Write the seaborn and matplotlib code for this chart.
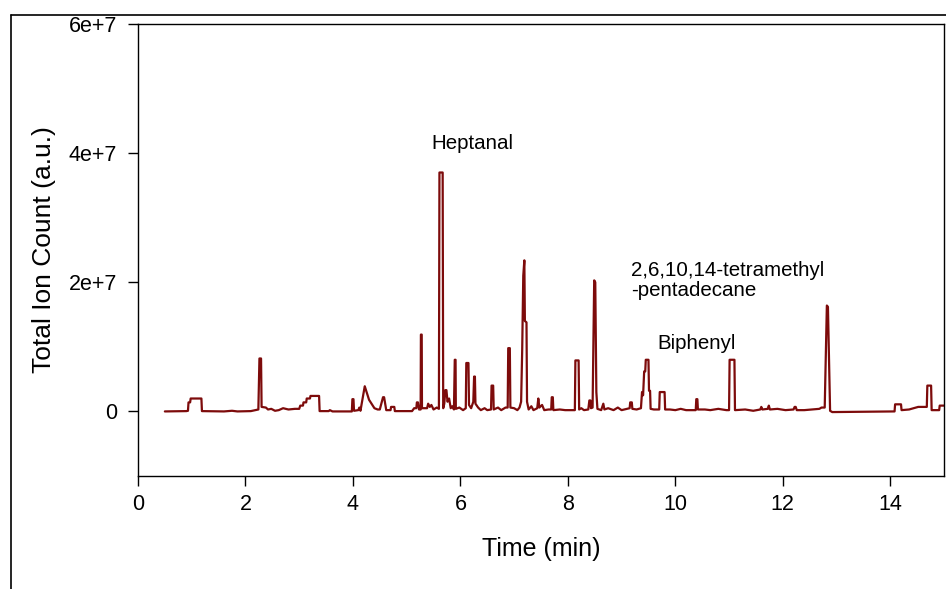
import matplotlib
matplotlib.use("Agg")
import matplotlib.pyplot as plt
import seaborn as sns
import pandas as pd
from matplotlib.lines import Line2D

# ---- data ----
time_min = [
    0.50, 0.90, 0.93, 0.94, 0.97, 0.98, 1.18, 1.19, 1.60, 1.75, 1.85, 2.10,
    2.24, 2.26, 2.29, 2.30, 2.38, 2.42, 2.48, 2.55, 2.62, 2.70, 2.80, 2.92,
    3.00, 3.02, 3.07, 3.08, 3.13, 3.14, 3.20, 3.21, 3.37, 3.38, 3.55, 3.57,
    3.62, 3.98, 3.99, 4.01, 4.02, 4.10, 4.12, 4.14, 4.22, 4.30, 4.40, 4.46,
    4.50, 4.56, 4.58, 4.62, 4.70, 4.71, 4.77, 4.78, 5.10, 5.14, 5.18, 5.19,
    5.21, 5.23, 5.26, 5.265, 5.28, 5.285, 5.38, 5.40, 5.43, 5.46, 5.50, 5.56,
    5.60, 5.61, 5.67, 5.68, 5.70, 5.72, 5.74, 5.76, 5.79, 5.82, 5.85, 5.88,
    5.895, 5.91, 5.915, 5.98, 6.05, 6.10, 6.11, 6.15, 6.16, 6.20, 6.24, 6.255,
    6.27, 6.28, 6.33, 6.38, 6.45, 6.50, 6.57, 6.58, 6.61, 6.62, 6.70, 6.76,
    6.84, 6.88, 6.89, 6.92, 6.93, 7.00, 7.06, 7.10, 7.13, 7.15, 7.17, 7.19,
    7.20, 7.23, 7.24, 7.27, 7.32, 7.36, 7.43, 7.45, 7.47, 7.52, 7.56, 7.64,
    7.69, 7.70, 7.72, 7.73, 7.85, 7.95, 8.05, 8.13, 8.14, 8.20, 8.21, 8.25,
    8.30, 8.38, 8.40, 8.42, 8.43, 8.46, 8.49, 8.51, 8.53, 8.55, 8.62, 8.66,
    8.68, 8.75, 8.85, 8.93, 9.00, 9.10, 9.15, 9.16, 9.19, 9.20, 9.28, 9.36,
    9.38, 9.40, 9.42, 9.44, 9.45, 9.50, 9.51, 9.53, 9.54, 9.60, 9.70, 9.71,
    9.80, 9.81, 9.90, 10.00, 10.10, 10.20, 10.38, 10.39, 10.41, 10.42, 10.55, 10.65,
    10.80, 10.95, 11.00, 11.01, 11.10, 11.11, 11.30, 11.45, 11.58, 11.60, 11.62, 11.72,
    11.74, 11.76, 11.90, 12.05, 12.20, 12.22, 12.24, 12.26, 12.40, 12.55, 12.68, 12.72,
    12.78, 12.82, 12.84, 12.88, 12.92, 13.50, 14.05, 14.08, 14.09, 14.20, 14.21, 14.35,
    14.52, 14.68, 14.69, 14.76, 14.77, 14.91, 14.92, 15.00,
]
intensity_millions = [
    0.0, 0.05, 0.1, 1.4, 1.4, 2.0, 2.0, 0.05, 0.0, 0.1, 0.0, 0.05,
    0.3, 8.2, 8.2, 0.7, 0.6, 0.3, 0.4, 0.1, 0.2, 0.5, 0.3, 0.4,
    0.4, 0.9, 0.9, 1.4, 1.4, 2.0, 2.0, 2.4, 2.4, 0.05, 0.05, 0.2,
    0.0, 0.0, 1.9, 1.9, 0.1, 0.2, 0.6, 0.1, 3.9, 1.8, 0.5, 0.3,
    0.3, 2.2, 2.2, 0.2, 0.2, 0.7, 0.7, 0.05, 0.05, 0.5, 0.5, 1.4,
    1.4, 0.3, 0.3, 11.9, 11.9, 0.5, 0.5, 1.2, 0.7, 1.0, 0.3, 0.6,
    0.4, 37.0, 37.0, 0.5, 1.2, 3.3, 3.3, 1.5, 2.0, 0.5, 0.8, 0.3,
    8.0, 8.0, 0.4, 0.6, 0.2, 0.5, 7.5, 7.5, 1.0, 0.5, 1.5, 5.4,
    5.4, 1.2, 0.6, 0.2, 0.5, 0.2, 0.3, 4.0, 4.0, 0.3, 0.6, 0.2,
    0.6, 0.6, 9.8, 9.8, 0.6, 0.5, 0.2, 0.6, 1.5, 9.5, 21.0, 23.4,
    14.0, 13.8, 1.5, 0.3, 0.8, 0.2, 0.5, 2.0, 0.6, 1.0, 0.2, 0.3,
    0.3, 2.2, 2.2, 0.2, 0.3, 0.2, 0.2, 0.2, 7.9, 7.9, 0.3, 0.5,
    0.2, 0.3, 1.7, 1.7, 0.5, 0.6, 20.3, 20.0, 3.0, 0.4, 0.2, 1.2,
    0.3, 0.5, 0.2, 0.6, 0.2, 0.4, 0.5, 1.4, 1.4, 0.4, 0.3, 0.5,
    3.0, 2.5, 6.2, 6.2, 8.0, 8.0, 3.2, 3.2, 0.4, 0.3, 0.3, 3.0,
    3.0, 0.3, 0.3, 0.2, 0.4, 0.2, 0.2, 1.9, 1.9, 0.3, 0.3, 0.2,
    0.4, 0.2, 0.2, 8.0, 8.0, 0.2, 0.3, 0.1, 0.3, 0.7, 0.3, 0.4,
    0.9, 0.3, 0.4, 0.2, 0.3, 0.7, 0.7, 0.2, 0.2, 0.3, 0.4, 0.6,
    0.6, 16.4, 16.2, 0.1, -0.1, -0.05, 0.0, 0.0, 1.1, 1.1, 0.2, 0.3,
    0.7, 0.7, 4.0, 4.0, 0.2, 0.2, 0.9, 0.9,
]
peak_labels = ["Heptanal", "2,6,10,14-tetramethyl\n-pentadecane", "Biphenyl"]
label_time = [5.46, 9.17, 9.67]
label_height_millions = [41.5, 20.3, 10.5]

y_ticks = [0, 2e7, 4e7, 6e7]
y_tick_labels = ["0", "2e+7", "4e+7", "6e+7"]
x_ticks = [0, 2, 4, 6, 8, 10, 12, 14]

# ---- plot ----
sns.set_theme(style="ticks")
plt.rcParams["font.family"] = ["Liberation Sans", "DejaVu Sans"]

df = pd.DataFrame({"Time": time_min,
                   "TIC": [v * 1e6 for v in intensity_millions]})

fig = plt.figure(figsize=(9.46, 5.89), dpi=100)
ax = fig.add_axes([138 / 946, 1 - 476 / 589, (944 - 138) / 946, (476 - 24) / 589])

sns.lineplot(data=df, x="Time", y="TIC", sort=False, estimator=None,
             color="#7d0b0b", linewidth=1.6, ax=ax)

ax.set_xlim(0, 15)
ax.set_ylim(-1e7, 6e7)
ax.set_xticks(x_ticks)
ax.set_xticklabels([str(t) for t in x_ticks], fontsize=15.5, color="black")
ax.set_yticks(y_ticks)
ax.set_yticklabels(y_tick_labels, fontsize=15.5, color="black")
ax.tick_params(axis="both", direction="out", length=7, width=1, colors="black",
               pad=8)
ax.tick_params(axis="x", pad=6)
for s in ax.spines.values():
    s.set_visible(True)
    s.set_linewidth(1.0)
    s.set_color("black")

ax.set_xlabel("Time (min)", fontsize=18, labelpad=16, color="black")
ax.set_ylabel("Total Ion Count (a.u.)", fontsize=19, labelpad=9, color="black")

for lab, tx, ty in zip(peak_labels, label_time, label_height_millions):
    ax.text(tx, ty * 1e6, lab, fontsize=14.8, ha="left", va="center",
            color="black", linespacing=1.1)

# outer figure frame (top and left edges visible)
fig.add_artist(Line2D([11 / 946, 11 / 946], [0, 1 - 15 / 589],
                      transform=fig.transFigure, color="black", linewidth=1.2))
fig.add_artist(Line2D([11 / 946, 1], [1 - 15 / 589, 1 - 15 / 589],
                      transform=fig.transFigure, color="black", linewidth=1.2))

fig.savefig("out.png", dpi=100)
